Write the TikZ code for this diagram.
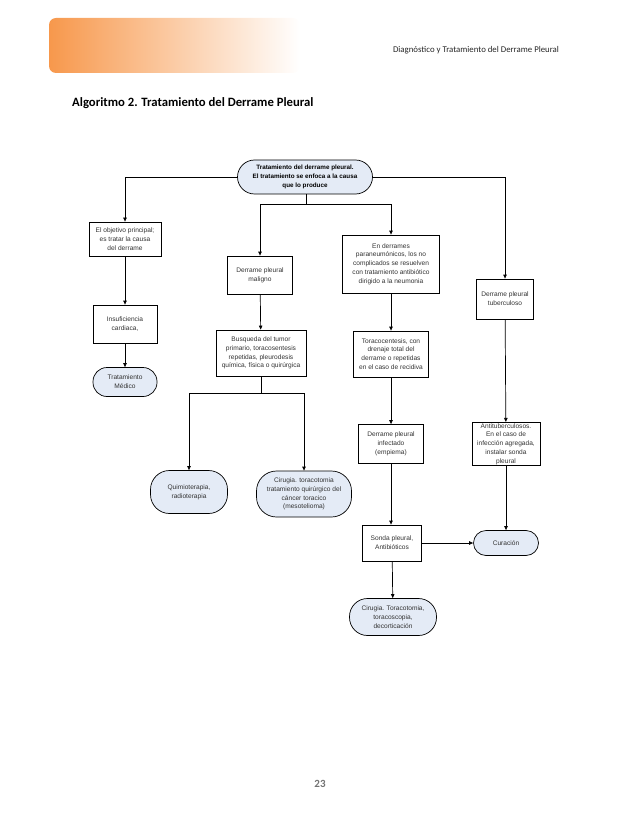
\documentclass[tikz,border=0pt]{standalone}
\usepackage{fontspec}
\setmainfont{Liberation Sans}
\newfontfamily\hdrfont{Carlito}
\usetikzlibrary{arrows.meta}
\definecolor{hdr}{HTML}{F7984C}
\definecolor{termfill}{HTML}{E4EBF6}
\definecolor{txt}{HTML}{333333}
\newcommand{\fs}{\fontsize{6.6}{8.8}\selectfont}
\newcommand{\fsb}{\fontsize{6.3}{8.8}\selectfont}
\tikzset{
  box/.style={draw, line width=0.7pt, fill=white, align=center, font=\fs, inner sep=1pt, text=txt},
  term/.style={box, fill=termfill, rounded corners=#1},
  conn/.style={line width=0.7pt},
  arr/.style={conn, -{Triangle[length=4pt,width=3.4pt]}}
}
\begin{document}
\begin{tikzpicture}[x=1pt,y=-1pt]
\useasboundingbox (0,0) rectangle (638,826);
% header
\shade[left color=hdr, right color=white, rounded corners=7pt] (49,18) rectangle (300,73);
\node[font=\hdrfont\fontsize{8.8}{10}\selectfont, text=black!85] (hdrtext) at (476,50) {Diagnóstico y Tratamiento del Derrame Pleural};
\node[font=\hdrfont\bfseries\fontsize{12.7}{14}\selectfont, anchor=west, inner sep=0pt] (title) at (72,103) {Algoritmo 2. Tratamiento del Derrame Pleural};
\node[font=\hdrfont\bfseries\fontsize{11}{12}\selectfont, text=black!55] (pnum) at (320,784) {23};

% nodes
\node[term=17pt, minimum width=135pt, minimum height=34pt, font=\bfseries\fsb, text=black] (root) at (305,177) {Tratamiento del derrame pleural.\\El tratamiento se enfoca a la causa\\que lo produce};
\node[box, minimum width=72pt, minimum height=34pt] (obj) at (125,239) {El objetivo principal;\\es tratar la causa\\del derrame};
\node[box, minimum width=64pt, minimum height=38pt] (insuf) at (125,324) {Insuficiencia\\cardiaca,};
\node[term=14pt, minimum width=64pt, minimum height=29pt] (med) at (125,382) {Tratamiento\\Médico};

\node[box, minimum width=65pt, minimum height=38pt] (malig) at (260,275) {Derrame pleural\\maligno};
\node[box, minimum width=90pt, minimum height=46pt] (busq) at (261,353) {Busqueda del tumor\\primario, toracosentesis\\repetidas, pleurodesis\\química, física o quirúrgica};
\node[term=19pt, minimum width=77pt, minimum height=43pt] (quimio) at (189,492) {Quimioterapia,\\radioterapia};
\node[term=20pt, minimum width=95pt, minimum height=46pt] (cirug) at (304,494) {Cirugia. toracotomia\\tratamiento quirúrgico del\\cáncer toracico\\(mesotelioma)};

\node[box, minimum width=97pt, minimum height=58pt] (paran) at (391,264) {En derrames\\paraneumónicos, los no\\complicados se resuelven\\con tratamiento antibiótico\\dirigido a la neumonia};
\node[box, minimum width=75pt, minimum height=46pt] (torac) at (391,354) {Toracocentesis, con\\drenaje total del\\derrame o repetidas\\en el caso de recidiva};
\node[box, minimum width=65pt, minimum height=39pt] (infec) at (391,444) {Derrame pleural\\infectado\\(empiema)};
\node[box, minimum width=59pt, minimum height=36pt] (sonda) at (392,543) {Sonda pleural,\\Antibióticos};
\node[term=18pt, minimum width=87pt, minimum height=37pt] (cirug2) at (393,617) {Cirugia. Toracotomia,\\toracoscopia,\\decorticación};

\node[box, minimum width=57pt, minimum height=40pt] (tuber) at (505,299) {Derrame pleural\\tuberculoso};
\node[box, minimum width=68pt, minimum height=43pt] (antit) at (506,444) {Antituberculosos.\\En el caso de\\infección agregada,\\instalar sonda\\pleural};
\node[term=12.5pt, minimum width=65pt, minimum height=25pt] (cura) at (506,543) {Curación};

% junction coordinates
\coordinate (j1) at (306,204);
\coordinate (j2) at (261,393);

% connectors
\draw[arr] (root.west) -| (obj.north);
\draw[arr] (root.east) -| (tuber.north);
\draw[conn] (root.south -| j1) -- (j1);
\draw[arr] (j1) -| (malig.north);
\draw[arr] (j1) -| (paran.north);
\draw[arr] (obj) -- (insuf);
\draw[arr] (insuf) -- (med);
\draw[arr] (malig) -- (busq);
\draw[conn] (busq.south) -- (j2);
\draw[arr] (j2) -| (quimio.north);
\draw[arr] (j2) -| (cirug.north);
\draw[arr] (paran) -- (torac);
\draw[arr] (torac) -- (infec);
\draw[arr] (infec.south) -- (sonda.north -| infec.south);
\draw[arr] (sonda) -- (cirug2);
\draw[arr] (tuber) -- (antit);
\draw[arr] (antit) -- (cura);
\draw[arr] (sonda) -- (cura);
\end{tikzpicture}
\end{document}
